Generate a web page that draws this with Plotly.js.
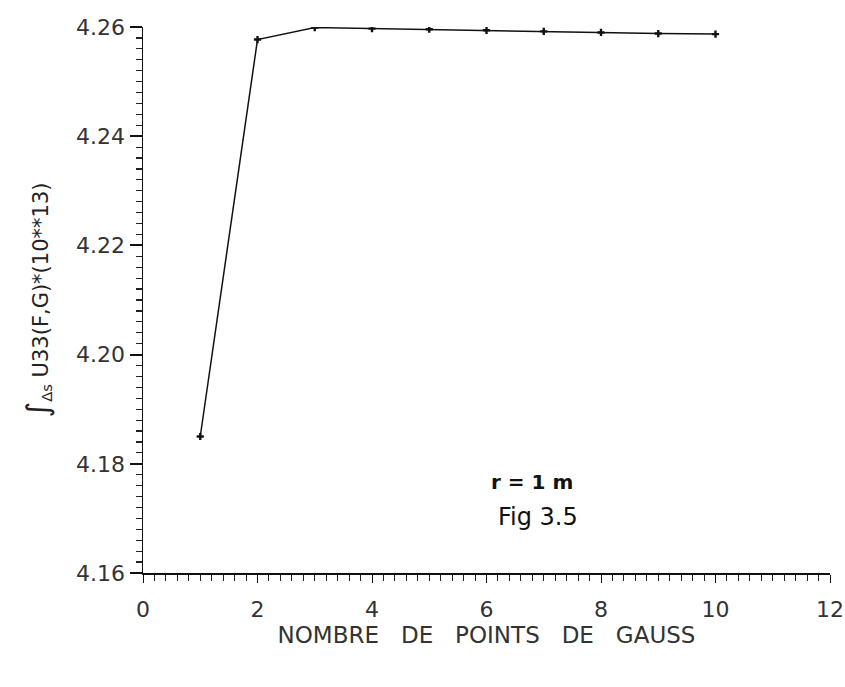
<!DOCTYPE html>
<html>
<head>
<meta charset="utf-8">
<script src="https://cdn.plot.ly/plotly-3.0.1.min.js"></script>
<style>html,body{margin:0;padding:0;background:#fff;}#chart{width:845px;height:687px;}</style>
</head>
<body>
<div id="chart"></div>
<script>
const gaussPoints = [1, 2, 3, 4, 5, 6, 7, 8, 9, 10];
const integralValues = [4.1850, 4.2577, 4.2599, 4.2597, 4.2596, 4.2594, 4.2592, 4.2590, 4.2588, 4.2587];
const xTickStart = 0, xTickStep = 2;
const yTickVals = [4.16, 4.18, 4.20, 4.22, 4.24, 4.26];
const yTickText = ["4.16", "4.18", "4.20", "4.22", "4.24", "4.26"];
const yMinorStep = 0.002;

const yMinorTicks = [];
for (let i = 0; i <= 50; i++) {
  if (i % 10 !== 0) yMinorTicks.push(+(4.16 + i * yMinorStep).toFixed(3));
}

const tickFont = {family: "DejaVu Sans ExtraLight, DejaVu Sans", size: 22, color: "#333"};

const trace = {
  x: gaussPoints,
  y: integralValues,
  mode: "lines+markers",
  line: {color: "#111", width: 1.5},
  marker: {symbol: "cross", size: 6, color: "#111"},
  showlegend: false
};

const minorAxisCarrier = {
  x: gaussPoints,
  y: integralValues,
  yaxis: "y2",
  mode: "lines",
  line: {color: "rgba(0,0,0,0)", width: 0},
  hoverinfo: "skip",
  showlegend: false
};

const layout = {
  width: 845, height: 687,
  margin: {l: 143, r: 15, t: 27, b: 114},
  paper_bgcolor: "#fff", plot_bgcolor: "#fff",
  xaxis: {
    range: [0, 12], tick0: xTickStart, dtick: xTickStep,
    showgrid: false, zeroline: false,
    showline: true, linecolor: "#111", linewidth: 1.5,
    ticks: "outside", ticklen: 8, tickcolor: "#111", tickwidth: 1,
    minor: {dtick: 0.2, ticks: "outside", ticklen: 6, tickcolor: "#222", showgrid: false},
    ticklabelstandoff: 8,
    tickfont: tickFont,
    title: {text: "NOMBRE&nbsp;&nbsp;&nbsp;DE&nbsp;&nbsp;&nbsp;POINTS&nbsp;&nbsp;&nbsp;DE&nbsp;&nbsp;&nbsp;GAUSS", font: {family: "DejaVu Sans ExtraLight, DejaVu Sans", size: 23, color: "#333"}, standoff: 2}
  },
  yaxis: {
    side: "left",
    range: [4.16, 4.26], tickmode: "array", tickvals: yTickVals, ticktext: yTickText,
    showgrid: false, zeroline: false,
    showline: true, linecolor: "#111", linewidth: 1.5,
    ticks: "outside", ticklen: 12, tickcolor: "#111", tickwidth: 2,
    tickfont: tickFont,
    title: {text: "<span style=\"font-size:30px\">∫</span><sub>Δs</sub> U33(F,G)*(10**13)", font: {family: "DejaVu Sans ExtraLight, DejaVu Sans", size: 21, color: "#222"}, standoff: 22}
  },
  yaxis2: {
    overlaying: "y", side: "left", anchor: "x",
    range: [4.16, 4.26], tickmode: "array", tickvals: yMinorTicks,
    showgrid: false, zeroline: false, showline: false,
    ticks: "outside", ticklen: 6, tickcolor: "#222", tickwidth: 1.2,
    showticklabels: false
  },
  annotations: [
    {text: "<b>r = 1 m</b>", x: 6.8, y: 4.1767, xref: "x", yref: "y", showarrow: false,
     font: {family: "DejaVu Sans", size: 20, color: "#111"}},
    {text: "Fig 3.5", x: 6.9, y: 4.1703, xref: "x", yref: "y", showarrow: false,
     font: {family: "DejaVu Sans", size: 24, color: "#111"}}
  ]
};

Plotly.newPlot("chart", [trace, minorAxisCarrier], layout, {displayModeBar: false, staticPlot: true});
</script>
</body>
</html>
